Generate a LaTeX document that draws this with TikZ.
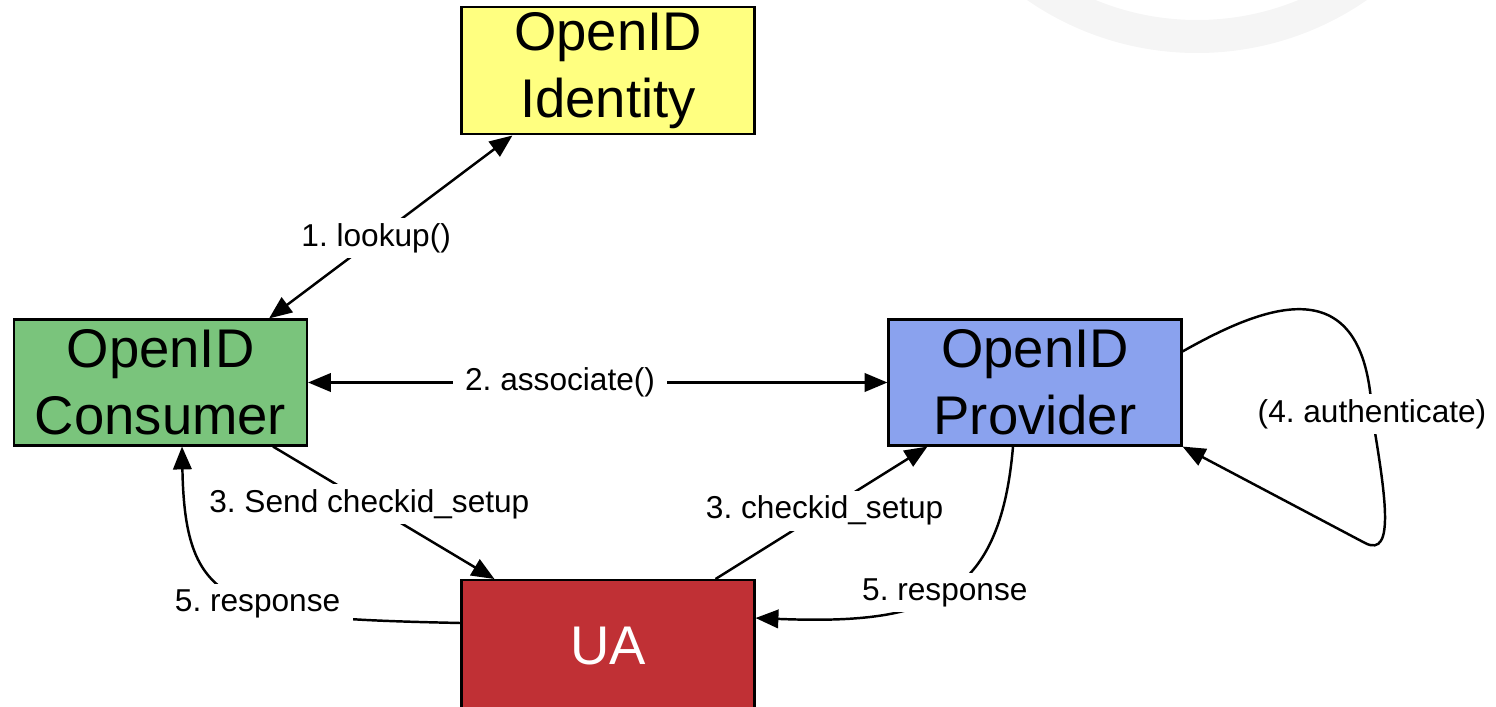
\documentclass[tikz,border=0pt]{standalone}
\usepackage{fontspec}
\setmainfont{Liberation Sans}
\usepackage{tikz}
\usetikzlibrary{arrows.meta, calc}
\usepackage{xcolor}
\definecolor{meuamarelo}{RGB}{255, 255, 128}
\definecolor{meuverde}{RGB}{122, 196, 124}
\definecolor{meuazul}{RGB}{138, 162, 238}
\definecolor{meuvermelho}{RGB}{192, 48, 53}
\definecolor{meucinza}{RGB}{245, 245, 245}
\frenchspacing

\begin{document}
\begin{tikzpicture}[
    quadro/.style={
        draw=black,
        line width=1.2pt,
        minimum width=5.86cm,
        minimum height=2.52cm,
        align=center,
        font=\fontsize{31}{38}\selectfont
    },
    legenda/.style={
        fill=white,
        inner xsep=7pt,
        inner ysep=3pt,
        font=\fontsize{18}{22}\selectfont
    },
    seta/.style={
        line width=1.4pt,
        >={Triangle[length=13pt, width=10.5pt]}
    }
]

\path[use as bounding box, clip] (0,0) rectangle (29.92,-14.14);

% ---------------- fundo ----------------

\draw[meucinza, line width=0.66cm] (23.94,4.92) circle (5.65cm);

% ---------------- caixas ----------------

\node[
    quadro,
    fill=meuamarelo
] (identidade) at (12.16,-1.41)
{OpenID\\Identity};

\node[
    quadro,
    fill=meuverde
] (consumidor) at (3.21,-7.65)
{OpenID\\Consumer};

\node[
    quadro,
    fill=meuazul
] (provedor) at (20.70,-7.65)
{OpenID\\Provider};

\node[
    quadro,
    fill=meuvermelho,
    text=white,
    minimum height=2.62cm,
    anchor=north
] (ua) at (12.16,-11.58)
{UA};

% ---------------- setas ----------------

\draw[seta, <->] ($(consumidor.north east)+(-0.78,0)$)
    -- node[legenda, pos=0.44] {1. lookup()}
    ($(identidade.south west)+(1.04,0)$);

\draw[seta, <->] (consumidor.east)
    -- node[legenda, pos=0.435] {2. associate()}
    (provedor.west);

\draw[seta, ->] ($(consumidor.south east)+(-0.7,0)$)
    -- node[legenda, pos=0.435] {3. Send checkid\_setup}
    ($(ua.north west)+(0.68,0)$);

\draw[seta, ->] ($(ua.north east)+(-0.8,0)$)
    -- node[legenda, pos=0.515] {3. checkid\_setup}
    ($(provedor.south west)+(0.8,0)$);

\draw[seta, ->] ($(provedor.north east)+(0,-0.66)$)
    .. controls (25.3,-6.1) and (27.3,-5.3) .. (27.44,-8.28)
    node[legenda] {(4. authenticate)}
    .. controls (27.7,-9.86) and (27.92,-11.18) .. (27.3,-10.86)
    -- (provedor.south east);

\draw[seta, ->] ($(ua.north west)+(0,-0.88)$)
    .. controls (4.6,-12.36) and (3.7,-12.2) ..
    node[legenda, pos=0.42] {5. response}
    ($(consumidor.south)+(0.43,0)$);

\draw[seta, ->] ($(provedor.south)+(-0.44,0)$)
    .. controls (20.0,-12.0) and (18.6,-12.5) ..
    node[legenda, pos=0.5] {5. response}
    ($(ua.north east)+(0,-0.78)$);

\end{tikzpicture}
\end{document}
